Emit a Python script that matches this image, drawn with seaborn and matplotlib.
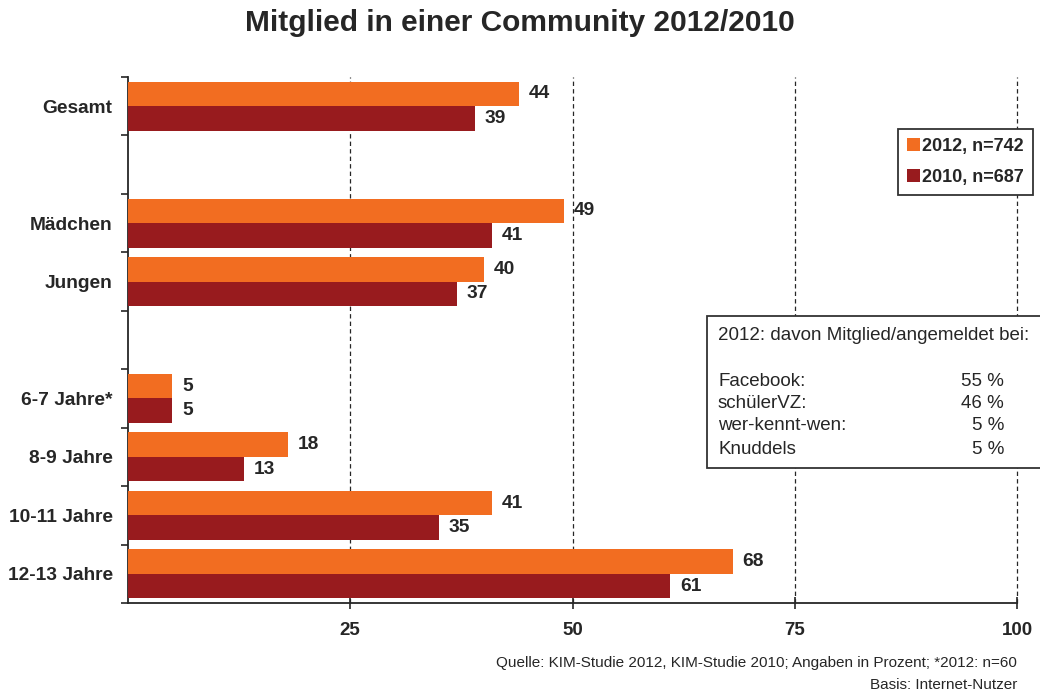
import matplotlib
matplotlib.use("Agg")
import matplotlib.pyplot as plt
import seaborn as sns
import pandas as pd
import numpy as np
from matplotlib.patches import Patch, Rectangle

# ---- data ----
groups = ["Gesamt", "Mädchen", "Jungen", "6-7 Jahre*", "8-9 Jahre", "10-11 Jahre", "12-13 Jahre"]
values_2012 = [44, 49, 40, 5, 18, 41, 68]
values_2010 = [39, 41, 37, 5, 13, 35, 61]
series = ["2012, n=742", "2010, n=687"]
order = ["Gesamt", "_gap1", "Mädchen", "Jungen", "_gap2",
         "6-7 Jahre*", "8-9 Jahre", "10-11 Jahre", "12-13 Jahre"]
xtick_values = [25, 50, 75, 100]
inset_names = ["Facebook:", "schülerVZ:", "wer-kennt-wen:", "Knuddels"]
inset_values = ["55 %", "46 %", "5 %", "5 %"]

title = "Mitglied in einer Community 2012/2010"
inset_title = "2012: davon Mitglied/angemeldet bei:"
footer1 = "Quelle: KIM-Studie 2012, KIM-Studie 2010; Angaben in Prozent; *2012: n=60"
footer2 = "Basis: Internet-Nutzer"

orange = "#F26D21"
darkred = "#981B1E"
txt = "#262626"

df = pd.DataFrame({
    "Gruppe": groups * 2,
    "Wert": values_2012 + values_2010,
    "Jahr": [series[0]] * len(groups) + [series[1]] * len(groups),
})

sns.set_theme(style="white")
plt.rcParams["font.family"] = ["Liberation Sans", "DejaVu Sans"]

W, H = 1040, 693
fig = plt.figure(figsize=(W / 100, H / 100), dpi=100)
ax = fig.add_axes([128 / W, 1 - 603 / H, 889 / W, 526 / H])

sns.barplot(data=df, y="Gruppe", x="Wert", hue="Jahr", order=order,
            hue_order=series, palette=[orange, darkred], orient="h",
            width=0.84, saturation=1, legend=False, ax=ax, zorder=3,
            linewidth=0, edgecolor="none")

n = len(order)
ax.set_ylim(n - 0.5, -0.5)
ax.set_xlim(0, 100)
ax.set_xlabel("")
ax.set_ylabel("")

# y ticks at slot boundaries, labels at centers
ax.set_yticks(np.arange(-0.5, n, 1.0))
ax.set_yticklabels([])
ax.set_yticks(np.arange(n), minor=True)
ax.set_yticklabels([("" if o.startswith("_") else o) for o in order], minor=True,
                   fontsize=13.8, fontweight="bold", color=txt)
ax.tick_params(axis="y", which="major", direction="out", length=5, width=1.2, color=txt, left=True)
ax.tick_params(axis="y", which="minor", length=0, pad=11, left=True)

ax.set_xticks(xtick_values)
ax.set_xticklabels([str(v) for v in xtick_values], fontsize=13.5, fontweight="bold", color=txt)
ax.tick_params(axis="x", direction="inout", length=9, width=1.2, color=txt, pad=9, bottom=True)

for s in ["top", "right"]:
    ax.spines[s].set_visible(False)
for s in ["left", "bottom"]:
    ax.spines[s].set_color(txt)
    ax.spines[s].set_linewidth(1.3)

ax.xaxis.grid(True, linestyle=(0, (3.5, 2.5)), color=txt, linewidth=0.9)
ax.yaxis.grid(False)
ax.set_axisbelow(True)
for gl in ax.get_xgridlines():
    gl.set_clip_on(False)

for c in ax.containers:
    ax.bar_label(c, fmt="{:.0f}", padding=7, fontsize=13.8, fontweight="bold", color=txt)

# legend
handles = [Patch(facecolor=orange, edgecolor="none"), Patch(facecolor=darkred, edgecolor="none")]
leg = ax.legend(handles, series, loc="upper left",
                bbox_to_anchor=(898 / W, 1 - 129 / H), bbox_transform=fig.transFigure,
                frameon=True, fancybox=False, framealpha=1, edgecolor="#333333",
                prop={"weight": "bold", "size": 13}, handlelength=0.7, handleheight=0.7,
                handletextpad=0.15, borderpad=0.5, labelspacing=0.75, borderaxespad=0)
leg.get_frame().set_linewidth(1.3)
leg.set_zorder(12)
for t in leg.get_texts():
    t.set_color(txt)

# inset box
rect = Rectangle((707 / W, 1 - 468 / H), (1050 - 707) / W, (468 - 316) / H,
                 transform=fig.transFigure, facecolor="white", edgecolor="#333333",
                 linewidth=1.3, zorder=10)
fig.add_artist(rect)
fs_in = 13.5
fig.text(718 / W, 1 - 336 / H, inset_title, fontsize=fs_in, color=txt, va="center", ha="left", zorder=11)
ys = [382, 404, 426, 449]
for name, val, y in zip(inset_names, inset_values, ys):
    fig.text(718 / W, 1 - y / H, name, fontsize=fs_in, color=txt, va="center", ha="left", zorder=11)
    fig.text(1004 / W, 1 - y / H, val, fontsize=fs_in, color=txt, va="center", ha="right", zorder=11)

# title and footer
fig.text(0.5, 1 - 23 / H, title, fontsize=21.5, fontweight="bold", color=txt, ha="center", va="center")
fig.text(1017 / W, 1 - 663 / H, footer1, fontsize=11, color=txt, ha="right", va="center")
fig.text(1017 / W, 1 - 685 / H, footer2, fontsize=11, color=txt, ha="right", va="center")

fig.savefig("out.png", dpi=100)
